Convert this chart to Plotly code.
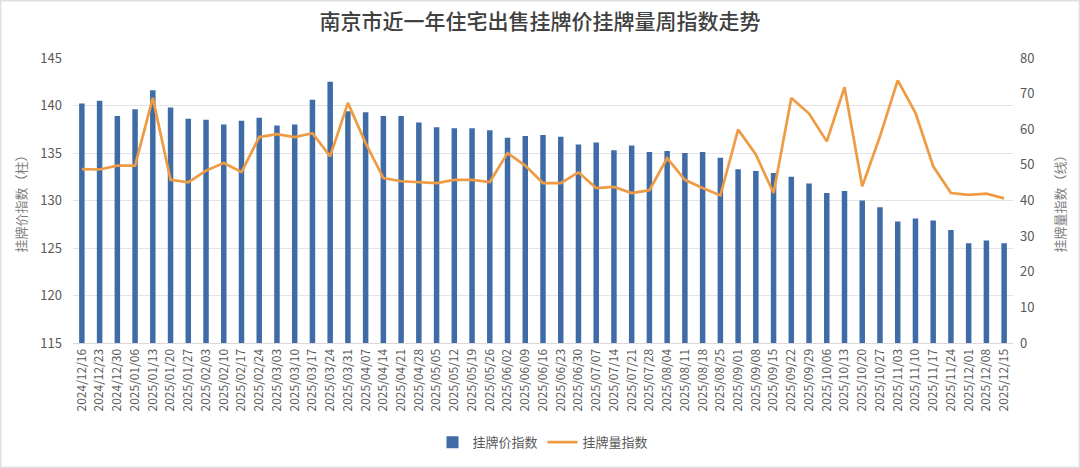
import plotly.graph_objects as go

dates = ["2024/12/16", "2024/12/23", "2024/12/30", "2025/01/06", "2025/01/13", "2025/01/20",
         "2025/01/27", "2025/02/03", "2025/02/10", "2025/02/17", "2025/02/24", "2025/03/03",
         "2025/03/10", "2025/03/17", "2025/03/24", "2025/03/31", "2025/04/07", "2025/04/14",
         "2025/04/21", "2025/04/28", "2025/05/05", "2025/05/12", "2025/05/19", "2025/05/26",
         "2025/06/02", "2025/06/09", "2025/06/16", "2025/06/23", "2025/06/30", "2025/07/07",
         "2025/07/14", "2025/07/21", "2025/07/28", "2025/08/04", "2025/08/11", "2025/08/18",
         "2025/08/25", "2025/09/01", "2025/09/08", "2025/09/15", "2025/09/22", "2025/09/29",
         "2025/10/06", "2025/10/13", "2025/10/20", "2025/10/27", "2025/11/03", "2025/11/10",
         "2025/11/17", "2025/11/24", "2025/12/01", "2025/12/08", "2025/12/15"]

# 挂牌价指数 (bars, left axis)
price_index = [140.2, 140.5, 138.9, 139.6, 141.6, 139.8, 138.6, 138.5, 138.0, 138.4,
               138.7, 137.9, 138.0, 140.6, 142.5, 139.4, 139.3, 138.9, 138.9, 138.2,
               137.7, 137.6, 137.6, 137.4, 136.6, 136.8, 136.9, 136.7, 135.9, 136.1,
               135.3, 135.8, 135.1, 135.2, 135.0, 135.1, 134.5, 133.3, 133.1, 132.9,
               132.5, 131.8, 130.8, 131.0, 130.0, 129.3, 127.8, 128.1, 127.9, 126.9,
               125.5, 125.8, 125.5]

# 挂牌量指数 (line, right axis)
volume_index = [48.8, 48.7, 49.8, 49.8, 68.8, 45.8, 45.1, 48.4, 50.5, 48.0,
                57.8, 58.6, 57.8, 58.9, 52.4, 67.4, 56.1, 46.3, 45.4, 45.2,
                44.9, 45.8, 45.8, 45.2, 53.3, 49.8, 44.9, 44.9, 47.9, 43.5,
                43.8, 42.1, 42.9, 51.9, 45.8, 43.5, 41.4, 59.9, 52.9, 42.1,
                68.8, 64.4, 56.6, 71.8, 44.0, 58.0, 73.7, 64.6, 49.6, 42.1,
                41.6, 41.9, 40.6]

font_cn = "Noto Sans CJK SC"
grey = "#595959"

fig = go.Figure()
fig.add_trace(go.Bar(x=dates, y=price_index, name="挂牌价指数",
                     marker=dict(color="#3F6CA6", line=dict(width=0))))
fig.add_trace(go.Scatter(x=dates, y=volume_index, name="挂牌量指数", yaxis="y2",
                         mode="lines", line=dict(color="#EE9B43", width=2.7)))

fig.update_layout(
    width=1080, height=468,
    margin=dict(l=73, r=67, t=58, b=125),
    paper_bgcolor="white", plot_bgcolor="white",
    font=dict(family=font_cn, color=grey, size=13),
    title=dict(text="南京市近一年住宅出售挂牌价挂牌量周指数走势", x=0.5, xanchor="center",
               y=0.953, yanchor="middle",
               font=dict(family=font_cn, size=21, color="#404040", weight=500)),
    bargap=0.69,
    xaxis=dict(type="category", tickangle=-90, tickfont=dict(size=12, color=grey),
               showgrid=False, showline=True, linecolor="#D9D9D9", ticks="",
               automargin=False),
    yaxis=dict(range=[115, 145], dtick=5, showgrid=True, gridcolor="#E4E4E4",
               zeroline=False, tickfont=dict(size=13, color=grey), automargin=False,
               ticklabelstandoff=10,
               title=dict(text="挂牌价指数（柱）", font=dict(size=13, color="#7F7F7F"),
                          standoff=10)),
    yaxis2=dict(range=[0, 80], dtick=10, overlaying="y", side="right", showgrid=False,
                zeroline=False, tickfont=dict(size=13, color=grey), automargin=False,
                ticklabelstandoff=6,
                title=dict(text="挂牌量指数（线）", font=dict(size=13, color="#7F7F7F"),
                           standoff=22)),
    legend=dict(orientation="h", x=0.5, xanchor="center", yref="container",
                y=0.055, yanchor="middle",
                font=dict(size=13, color=grey), traceorder="normal"),
    shapes=[dict(type="rect", xref="paper", yref="paper",
                 x0=-73 / 940, x1=1 + 67 / 940, y0=-125 / 285, y1=1 + 58 / 285,
                 line=dict(color="#E0E0E0", width=3))],
)

fig.write_html("out.html", config={"displayModeBar": False},
               post_script="document.body.style.margin='0';")
